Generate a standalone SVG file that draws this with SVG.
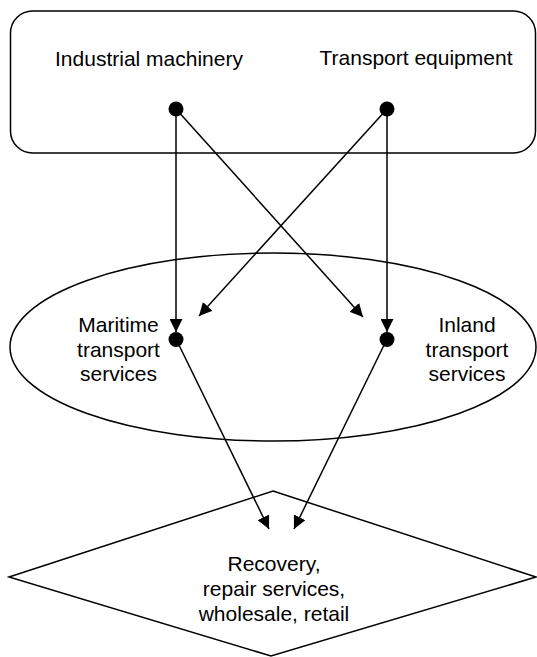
<svg xmlns="http://www.w3.org/2000/svg" width="537" height="657" viewBox="0 0 537 657">
<style>
.shape{fill:#fff;stroke:#000;stroke-width:1.5}
.lbl{font-family:"Liberation Sans",Arial,sans-serif;font-size:21px;fill:#000;text-anchor:middle}
.conn{stroke:#000;stroke-width:1.5;fill:none;marker-end:url(#arr)}
.dot{fill:#000}
</style>
<defs>
<marker id="arr" markerUnits="userSpaceOnUse" markerWidth="13" markerHeight="13" refX="13" refY="6.5" orient="auto" viewBox="0 0 13 13">
<path d="M0,0 L13,6.5 L0,13 z" fill="#000"/>
</marker>
</defs>
<g id="node-top">
<rect class="shape" x="10.5" y="11" width="525" height="142" rx="22" ry="22"/>
<text class="lbl" x="149" y="66">Industrial machinery</text>
<text class="lbl" x="416" y="65">Transport equipment</text>
</g>
<g id="node-middle">
<ellipse class="shape" cx="273" cy="347" rx="263" ry="94"/>
<text class="lbl"><tspan x="118.5" y="332">Maritime</tspan><tspan x="118.5" y="356.5">transport</tspan><tspan x="118.5" y="381">services</tspan></text>
<text class="lbl"><tspan x="467" y="332">Inland</tspan><tspan x="467" y="356.5">transport</tspan><tspan x="467" y="381">services</tspan></text>
</g>
<g id="node-bottom">
<polygon class="shape" points="273,491 536,577 271,656 9,577"/>
<text class="lbl"><tspan x="274" y="571">Recovery,</tspan><tspan x="274" y="596">repair services,</tspan><tspan x="274" y="621">wholesale, retail</tspan></text>
</g>
<g id="connectors">
<line class="conn" x1="176" y1="109" x2="176" y2="332"/>
<line class="conn" x1="176" y1="109" x2="363" y2="317"/>
<line class="conn" x1="387" y1="109" x2="199" y2="316"/>
<line class="conn" x1="387" y1="109" x2="387" y2="332"/>
<line class="conn" x1="176" y1="339" x2="269" y2="529"/>
<line class="conn" x1="387" y1="339" x2="294" y2="529"/>
<circle class="dot" cx="176" cy="109" r="7.5"/>
<circle class="dot" cx="387" cy="109" r="7.5"/>
<circle class="dot" cx="176" cy="339.5" r="7.5"/>
<circle class="dot" cx="387" cy="339.5" r="7.5"/>
</g>
</svg>
